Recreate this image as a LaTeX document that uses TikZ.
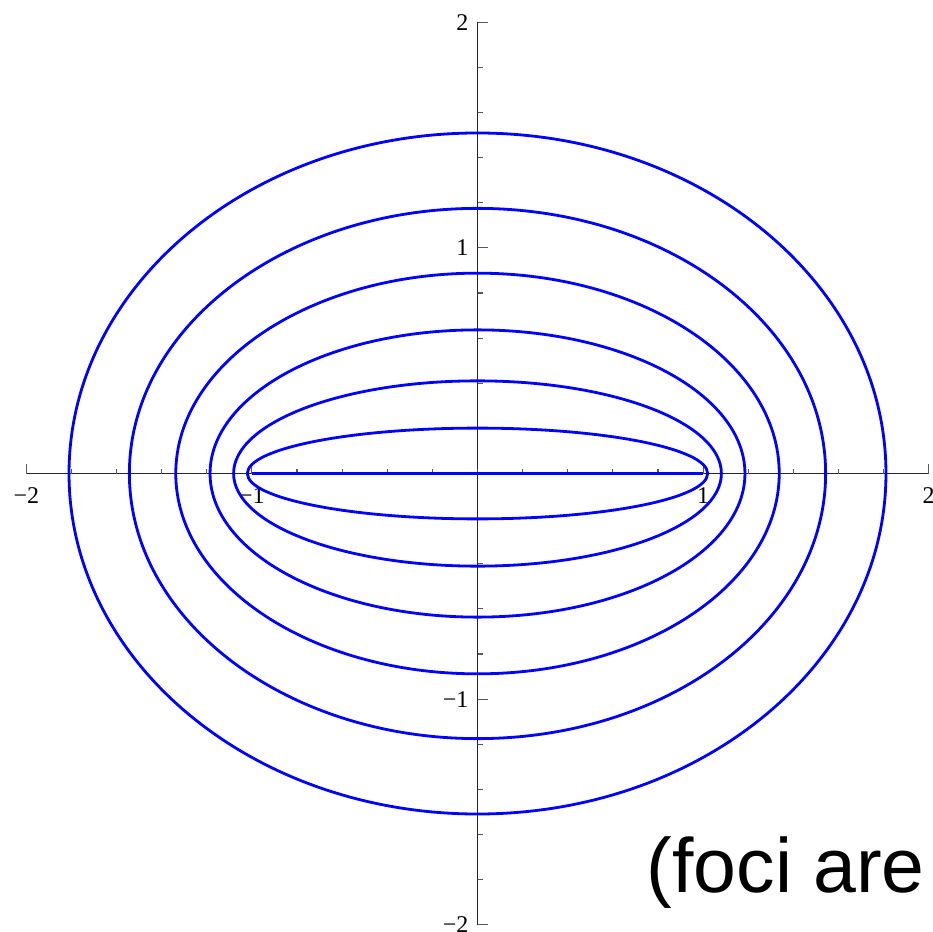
\documentclass[tikz,border=0pt]{standalone}
\usepackage{fontspec}
\setmainfont{Liberation Serif}
\setsansfont{Liberation Sans}
\begin{document}
\begin{tikzpicture}[x=225.6pt,y=225.6pt,
  axisline/.style={black!85,line width=1.3pt},
  tickline/.style={black!65,line width=1.1pt},
  curve/.style={blue,line width=2.8pt},
  ticklabel/.style={font=\fontsize{24}{24}\selectfont,inner sep=0pt}]
\useasboundingbox (-477.5pt,-457.5pt) rectangle (455.5pt,473.5pt);
% axes
\coordinate (xl) at (-2,0); \coordinate (xr) at (2,0);
\coordinate (yb) at (0,-2); \coordinate (yt) at (0,2);
\draw[axisline] (xl) -- (xr);
\draw[axisline] (yb) -- (yt);
% minor ticks
\foreach \i in {-10,...,10} {
  \draw[tickline] (\i/5,0) -- ++(0,5pt);
  \draw[tickline] (0,\i/5) -- ++(5pt,0);
}
% major ticks
\foreach \i in {-2,-1,1,2} {
  \draw[tickline] (\i,0) -- ++(0,10pt);
  \draw[tickline] (0,\i) -- ++(10pt,0);
}
% tick labels
\node[ticklabel,anchor=north] (lxm2) at ([yshift=-14pt]-2,0) {−2};
\node[ticklabel,anchor=north] (lxm1) at ([yshift=-14pt]-1,0) {−1};
\node[ticklabel,anchor=north] (lx1) at ([yshift=-14pt]1,0) {1};
\node[ticklabel,anchor=north] (lx2) at ([yshift=-14pt]2,0) {2};
\node[ticklabel,anchor=east] (lym2) at ([xshift=-9pt]0,-2) {−2};
\node[ticklabel,anchor=east] (lym1) at ([xshift=-9pt]0,-1) {−1};
\node[ticklabel,anchor=east] (ly1) at ([xshift=-9pt]0,1) {1};
\node[ticklabel,anchor=east] (ly2) at ([xshift=-9pt]0,2) {2};
% confocal ellipses
\foreach \u in {0.2,0.4,0.6,0.8,1.0,1.2} {
  \draw[curve] (0,0) ellipse [x radius={cosh(\u)}, y radius={sinh(\u)}];
}
\coordinate (f1) at (-1,0); \coordinate (f2) at (1,0);
\draw[curve] (f1) -- (f2);
% note
\node[font=\sffamily\fontsize{77}{77}\selectfont,anchor=base west,inner sep=0pt] (note) at (169pt,-418.5pt) {(foci are};
\end{tikzpicture}
\end{document}
